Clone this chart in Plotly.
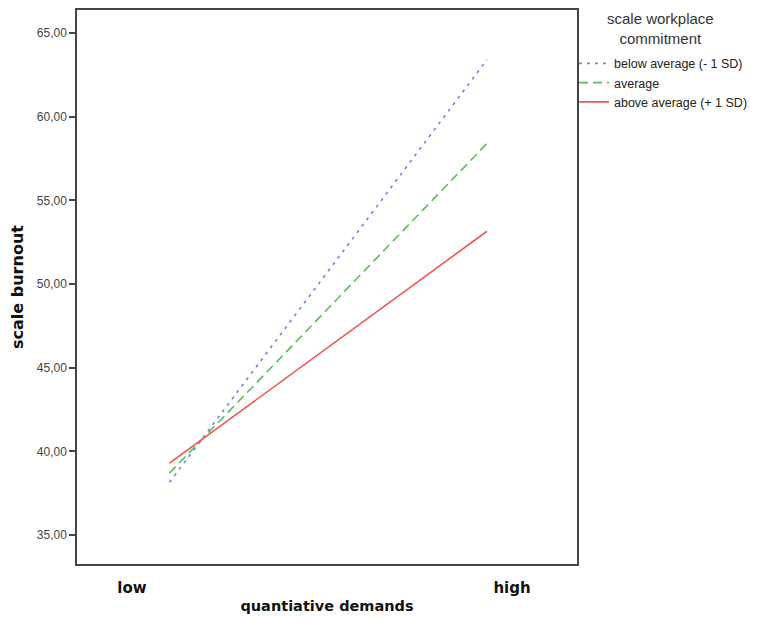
import plotly.graph_objects as go

# Data
demand_labels = ["<b>low</b>", "<b>high</b>"]
demand_tick_pos = [11.0, 87.0]
demand_line_pos = [18.5, 82.0]
series_names = ["below average (- 1 SD)", "average", "above average (+ 1 SD)"]
burnout_below = [38.15, 63.4]
burnout_average = [38.7, 58.4]
burnout_above = [39.3, 53.15]
y_ticks = [35, 40, 45, 50, 55, 60, 65]
y_ticklabels = ["35,00", "40,00", "45,00", "50,00", "55,00", "60,00", "65,00"]
legend_title = "scale workplace<br>commitment"

colors = ["#7282d4", "#55c255", "#f25555"]
dashes = ["3px,5px", "9px,5px", "solid"]
series_vals = [burnout_below, burnout_average, burnout_above]

fig = go.Figure()
for name, vals, c, d in zip(series_names, series_vals, colors, dashes):
    fig.add_trace(go.Scatter(
        x=demand_line_pos, y=vals, mode="lines", name=name,
        line=dict(color=c, width=1.6, dash=d),
    ))

fig.add_annotation(
    text=legend_title, xref="paper", yref="paper", x=1.166, y=1.0,
    xanchor="center", yanchor="top", showarrow=False, align="center",
    font=dict(size=15, color="#333333"), yshift=2,
)

fig.update_layout(
    width=750, height=619,
    margin=dict(l=69, r=181, t=0, b=63),
    plot_bgcolor="white", paper_bgcolor="white",
    font=dict(family="Liberation Sans, Arial, sans-serif", color="#333333"),
    showlegend=True,
    legend=dict(
        x=0.994, xanchor="left", y=0.93, yanchor="top",
        font=dict(size=12.5, color="#222222"),
        bgcolor="rgba(0,0,0,0)", tracegroupgap=0, itemwidth=30,
    ),
    xaxis=dict(
        range=[0, 100], tickmode="array", tickvals=demand_tick_pos,
        ticktext=demand_labels, showgrid=False, zeroline=False,
        ticks="outside", ticklen=9, tickcolor="rgba(0,0,0,0)",
        tickfont=dict(family="DejaVu Sans", size=15, color="#111111"),
        showline=True, linecolor="#444444", linewidth=1.5, mirror=True,
        title=dict(text="<b>quantiative demands</b>", standoff=5,
                   font=dict(family="DejaVu Sans", size=14.5, color="#111111")),
    ),
    yaxis=dict(
        range=[33.27, 66.37], tickmode="array", tickvals=y_ticks,
        ticktext=y_ticklabels, showgrid=False, zeroline=False,
        ticks="outside", ticklen=6, tickcolor="#444444", tickwidth=1.5,
        tickfont=dict(size=12, color="#444444"),
        showline=True, linecolor="#444444", linewidth=1.5, mirror=True,
        title=dict(text="<b>scale burnout</b>", standoff=10,
                   font=dict(family="DejaVu Sans", size=16, color="#111111")),
    ),
)

fig.write_html("out.html")
